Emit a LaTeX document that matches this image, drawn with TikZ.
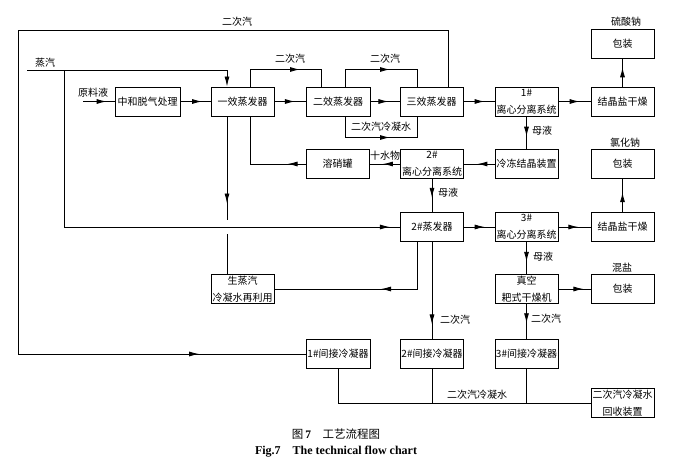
\documentclass[tikz,border=0pt]{standalone}
\usepackage{fontspec}
\setmainfont{Liberation Serif}
\newfontfamily\cjk{Noto Sans CJK SC}
\usetikzlibrary{arrows.meta,decorations.markings}
\begin{document}
\begin{tikzpicture}[x=1pt,y=-1pt,
  box/.style={draw, line width=1pt, minimum width=63pt, minimum height=29pt, inner sep=0pt,
    font=\cjk\fontsize{10}{17}\selectfont, align=center},
  ln/.style={line width=0.9pt},
  lbl/.style={font=\cjk\fontsize{10}{12}\selectfont, inner sep=1pt},
  tip/.style={-{Latex[length=10pt,width=5pt]}},
  arrowat/.style={postaction={decorate}, decoration={markings,
    mark=at position #1 with {\arrow{Latex[length=10pt,width=5pt]}}}},
]
\useasboundingbox (0,0) rectangle (697,461);
\fill[white] (0,0) rectangle (697,461);

% boxes
\node[box, minimum width=65pt] (zh) at (147.5,101.5) {中和脱气处理};
\node[box] (e1) at (242.5,101.5) {一效蒸发器};
\node[box, minimum width=64pt] (e2) at (338,101.5) {二效蒸发器};
\node[box] (e3) at (431.5,101.5) {三效蒸发器};
\node[box] (c1) at (526.5,101.5) {1\#\\离心分离系统};
\node[box] (d1) at (622.5,101.5) {结晶盐干燥};
\node[box] (p1) at (622.5,44) {包装};
\node[box] (rx) at (337.5,164) {溶硝罐};
\node[box] (c2) at (432,164) {2\#\\离心分离系统};
\node[box] (ld) at (526.5,164) {冷冻结晶装置};
\node[box] (p2) at (622.5,164) {包装};
\node[box] (ev2) at (432,227) {2\#蒸发器};
\node[box] (c3) at (526.5,227) {3\#\\离心分离系统};
\node[box] (d2) at (622.5,227) {结晶盐干燥};
\node[box] (zk) at (526.5,289) {真空\\耙式干燥机};
\node[box] (p3) at (622.5,289) {包装};
\node[box] (sz) at (242.5,289) {生蒸汽\\冷凝水再利用};
\node[box, minimum width=64pt] (k1) at (338,354) {1\#间接冷凝器};
\node[box] (k2) at (432,354) {2\#间接冷凝器};
\node[box] (k3) at (526.5,354) {3\#间接冷凝器};
\node[box] (hs) at (622.5,403) {二次汽冷凝水\\回收装置};

% coordinates
\coordinate (tl) at (18,30);
\coordinate (bl) at (18,354);
\coordinate (zq) at (27,70);
\coordinate (zb) at (64,70);
\coordinate (zc) at (64,227);
\coordinate (yl) at (83,101.5);
\coordinate (g1) at (227,220);
\coordinate (g2) at (227,234);
\coordinate (b1) at (338,403);
\coordinate (b2) at (432,403);
\coordinate (b3) at (526.5,403);

% top return line of secondary steam
\draw[ln] ([xshift=16.5pt]e3.north) |- (tl) -- (bl);
\draw[ln,arrowat=0.63] (bl) -- (k1.west);

% live steam
\draw[ln,tip] (zq) -| ([xshift=-15.5pt]e1.north);
\draw[ln] (zb) -- (zc);
\draw[ln,arrowat=0.97] (zc) -- (ev2.west);

% main chain
\draw[ln,arrowat=0.75] (yl) -- (zh.west);
\draw[ln,arrowat=0.72] (zh.east) -- (e1.west);
\draw[ln,arrowat=0.66] (e1.east) -- (e2.west);
\draw[ln,arrowat=0.62] (e2.east) -- (e3.west);
\draw[ln,arrowat=0.68] (e3.east) -- (c1.west);
\draw[ln,arrowat=0.66] (c1.east) -- (d1.west);
\draw[ln,arrowat=0.7] (d1.north) -- (p1.south);

% secondary steam loops
\draw[ln,arrowat=67pt] ([xshift=7.5pt]e1.north) -- ++(0,-17) -| ([xshift=-17pt]e2.north);
\draw[ln,arrowat=62pt] ([xshift=7pt]e2.north) -- ++(0,-17) -| ([xshift=-14.5pt]e3.north);
\draw[ln,arrowat=66pt] ([xshift=7pt]e2.south) -- ++(0,21) -| ([xshift=-14.5pt]e3.south);

% middle row
\draw[ln,arrowat=0.62] (c1.south) -- (ld.north);
\draw[ln,arrowat=0.56] (ld.west) -- (c2.east);
\draw[ln,arrowat=0.56] (c2.west) -- (rx.east);
\draw[ln,arrowat=18pt] (rx.west) -| ([xshift=7.5pt]e1.south);
\draw[ln,arrowat=87pt] ([xshift=-15.5pt]e1.south) -- (g1);
\draw[ln] (g2) -- ([xshift=-15.5pt]sz.north);
\draw[ln,arrowat=0.57] (c2.south) -- (ev2.north);

% second evaporator row
\draw[ln,arrowat=0.68] (ev2.east) -- (c3.west);
\draw[ln,arrowat=0.62] (c3.east) -- (d2.west);
\draw[ln,arrowat=0.6] (d2.north) -- (p2.south);
\draw[ln,arrowat=0.62] (c3.south) -- (zk.north);
\draw[ln,arrowat=0.78] (zk.east) -- (p3.west);
\draw[ln,arrowat=83pt] ([xshift=-15pt]ev2.south) |- (sz.east);
\draw[ln,arrowat=0.85] (ev2.south) -- (k2.north);
\draw[ln,arrowat=0.55] (zk.south) -- (k3.north);

% condensate collection
\draw[ln] (k1.south) -- (b1) -- (hs.west);
\draw[ln] (k2.south) -- (b2);
\draw[ln] (k3.south) -- (b3);

% labels
\node[lbl] (t1) at (237,22) {二次汽};
\node[lbl] (t2) at (45,63) {蒸汽};
\node[lbl] (t3) at (93,93) {原料液};
\node[lbl] (t4) at (290,59) {二次汽};
\node[lbl] (t5) at (385,59) {二次汽};
\node[lbl] (t6) at (381,127) {二次汽冷凝水};
\node[lbl] (t7) at (626,22) {硫酸钠};
\node[lbl,anchor=west] (t8) at (531,131) {母液};
\node[lbl] (t9) at (625,143) {氯化钠};
\node[lbl] (t10) at (385,156) {十水物};
\node[lbl,anchor=west] (t11) at (437,193) {母液};
\node[lbl,anchor=west] (t12) at (532,257) {母液};
\node[lbl] (t13) at (622,268) {混盐};
\node[lbl,anchor=west] (t14) at (439,320) {二次汽};
\node[lbl,anchor=west] (t15) at (530,319) {二次汽};
\node[lbl] (t16) at (477,395) {二次汽冷凝水};

% caption
\node[inner sep=0pt, font=\fontsize{11.5}{13}\selectfont] (cap1) at (336,434) {{\cjk 图}\,\textbf{7}\quad{\cjk 工艺流程图}};
\node[inner sep=0pt, font=\bfseries\fontsize{12}{14}\selectfont] (cap2) at (336,452) {Fig.7\quad The technical flow chart};
\end{tikzpicture}
\end{document}
